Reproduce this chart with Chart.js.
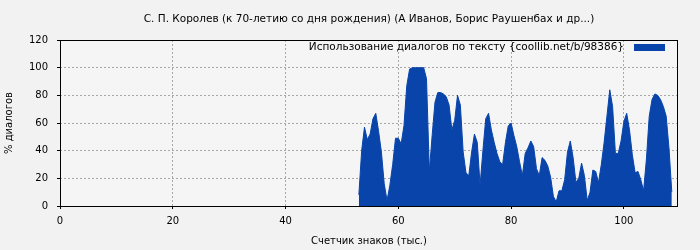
<!DOCTYPE html>
<html>
<head>
<meta charset="utf-8">
<script src="https://cdn.jsdelivr.net/npm/chart.js@4/dist/chart.umd.min.js"></script>
<style>
  html, body { margin: 0; padding: 0; background: #f2f2f2; }
  #wrap { width: 700px; height: 250px; }
</style>
</head>
<body>
<div id="wrap"><canvas id="dialogChart" width="700" height="250"></canvas></div>
<script>
// Position of the first sample and step between samples (thousand characters)
const startK = 53;
const stepK = 0.5;

// Share of dialogue text, %, one value per sample
const dialogPercent = [
    8, 40, 57, 48, 52, 63, 67, 54, 39, 16,
    4, 15, 30, 49, 49, 45, 58, 87, 99, 100,
    100, 100, 100, 100, 92, 25, 51, 75, 82, 82,
    81, 79, 73, 55, 62, 80, 73, 39, 24, 22,
    39, 52, 46, 15, 40, 63, 67, 55, 46, 38,
    32, 30, 46, 58, 60, 51, 43, 32, 22, 38,
    42, 47, 43, 27, 22, 35, 33, 29, 21, 7,
    3, 11, 11, 19, 39, 47, 35, 17, 20, 31,
    22, 4, 10, 26, 25, 17, 30, 46, 65, 84,
    72, 38, 38, 47, 61, 67, 55, 37, 24, 25,
    19, 11, 34, 65, 77, 81, 80, 77, 72, 65,
    42, 10
];

const xTicks = [0, 20, 40, 60, 80, 100];
const yTicks = [0, 20, 40, 60, 80, 100, 120];

const chartTitle = 'С. П. Королев (к 70-летию со дня рождения) (А Иванов, Борис Раушенбах и др...)';
const seriesLabel = 'Использование диалогов по тексту {coollib.net/b/98386}';
const fillColor = '#0844aa';

const points = dialogPercent.map(function(v, i) {
    return { x: startK + i * stepK, y: v };
});

// Background, frame round the plot, title and the legend inside the plot
const framePlugin = {
    id: 'frame',
    beforeDraw: function(chart) {
        const ctx = chart.ctx;
        const a = chart.chartArea;
        ctx.save();
        ctx.fillStyle = '#f2f2f2';
        ctx.fillRect(0, 0, chart.width, chart.height);
        ctx.fillStyle = '#f5f5f5';
        ctx.fillRect(a.left, a.top, a.right - a.left, a.bottom - a.top);
        ctx.restore();
    },
    afterDraw: function(chart) {
        const ctx = chart.ctx;
        const a = chart.chartArea;
        ctx.save();
        ctx.strokeStyle = '#000';
        ctx.lineWidth = 1;
        ctx.strokeRect(Math.round(a.left) + 0.5, Math.round(a.top) + 0.5,
            Math.round(a.right - a.left) - 1, Math.round(a.bottom - a.top));

        // title, centred over the plot
        ctx.fillStyle = '#000';
        ctx.font = '10.5px "DejaVu Sans"';
        ctx.textAlign = 'center';
        ctx.textBaseline = 'middle';
        ctx.fillText(chartTitle, (a.left + a.right) / 2, 19);

        // legend
        const boxW = 31, boxH = 7;
        const boxX = a.right - 13 - boxW;
        const boxY = a.top + 4;
        ctx.fillStyle = fillColor;
        ctx.fillRect(boxX, boxY, boxW, boxH);
        ctx.fillStyle = '#000';
        ctx.textAlign = 'right';
        ctx.fillText(seriesLabel, boxX - 10, boxY + boxH / 2);
        ctx.restore();
    }
};

const ctx = document.getElementById('dialogChart').getContext('2d');
new Chart(ctx, {
    type: 'line',
    data: {
        datasets: [{
            label: seriesLabel,
            data: points,
            borderColor: fillColor,
            backgroundColor: fillColor,
            borderWidth: 1,
            fill: 'origin',
            pointRadius: 0,
            tension: 0
        }]
    },
    options: {
        responsive: false,
        animation: false,
        devicePixelRatio: 1,
        layout: {
            padding: { left: 0, right: 22, top: 40, bottom: 0 }
        },
        plugins: {
            legend: { display: false },
            tooltip: { enabled: false },
            title: { display: false }
        },
        scales: {
            x: {
                type: 'linear',
                min: 0,
                max: 109.6,
                afterBuildTicks: function(scale) {
                    scale.ticks = xTicks.map(function(v) { return { value: v }; });
                },
                afterFit: function(scale) { scale.height = 44; },
                ticks: {
                    color: '#000',
                    padding: 6,
                    maxRotation: 0,
                    font: { family: 'DejaVu Sans', size: 10 }
                },
                grid: {
                    color: '#a8a8a8',
                    tickColor: '#000',
                    tickLength: 3,
                    tickBorderDash: []
                },
                border: { display: false, dash: [2, 2] },
                title: {
                    display: true,
                    text: 'Счетчик знаков (тыс.)',
                    color: '#000',
                    font: { family: 'DejaVu Sans', size: 10 },
                    padding: { top: 2, bottom: 3 }
                }
            },
            y: {
                min: 0,
                max: 120,
                afterBuildTicks: function(scale) {
                    scale.ticks = yTicks.map(function(v) { return { value: v }; });
                },
                afterFit: function(scale) { scale.width = 60; },
                ticks: {
                    color: '#000',
                    padding: 9,
                    font: { family: 'DejaVu Sans', size: 10 }
                },
                grid: {
                    color: '#a8a8a8',
                    tickColor: '#000',
                    tickLength: 3,
                    tickBorderDash: []
                },
                border: { display: false, dash: [2, 2] },
                title: {
                    display: true,
                    text: '% диалогов',
                    color: '#000',
                    font: { family: 'DejaVu Sans', size: 10 },
                    padding: { top: 3, bottom: 2 }
                }
            }
        }
    },
    plugins: [framePlugin]
});
</script>
</body>
</html>
